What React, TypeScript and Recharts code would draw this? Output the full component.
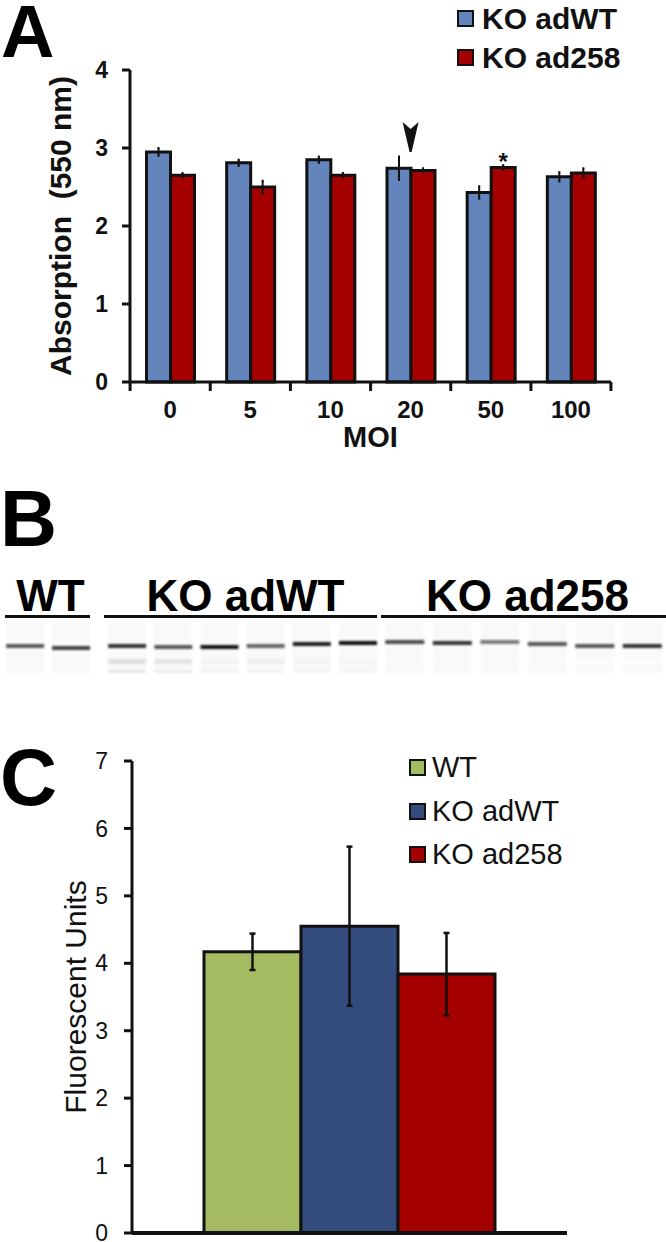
import React from 'react';
import { BarChart, Bar, XAxis, YAxis, ErrorBar, Cell, Legend, LabelList, ReferenceDot } from 'recharts';

const moi = ['0', '5', '10', '20', '50', '100'];
const adWtValues = [2.95, 2.81, 2.85, 2.74, 2.43, 2.63];
const adWtErrors = [0.05, 0.04, 0.04, 0.15, 0.08, 0.06];
const ad258Values = [2.65, 2.5, 2.65, 2.71, 2.75, 2.68];
const ad258Errors = [0.03, 0.08, 0.03, 0.03, 0.03, 0.06];
const marks = ['', '', '', '', '*', ''];

const fluorWt = 4.17;
const fluorWtErr = 0.27;
const fluorAdWt = 4.55;
const fluorAdWtErr = 1.18;
const fluorAd258 = 3.84;
const fluorAd258Err = 0.61;

// gel lanes: height of the main band above the gel bottom, and how dark each band is
const wtBand = [25, 23];
const wtDark = [0.7, 0.8];
const wtFaint = [0.04, 0.04];
const adWtBand = [25, 24, 24, 25, 27, 28];
const adWtDark = [0.85, 0.7, 1, 0.65, 0.95, 1];
const adWtFaint = [0.2, 0.17, 0.08, 0.11, 0.08, 0.07];
const ad258Band = [29, 28, 29, 27, 25, 25];
const ad258Dark = [0.75, 0.85, 0.55, 0.7, 0.7, 0.85];
const ad258Faint = [0.03, 0.03, 0.03, 0.03, 0.02, 0.02];

const BLUE = '#6484bc';
const RED = '#a50000';
const GREEN = '#a5bb62';
const NAVY = '#344c7d';
const INK = '#111';
const FONT = '"Liberation Sans", Arial, sans-serif';

const moiData = moi.map((name, i) => ({
  name,
  adWt: adWtValues[i],
  adWtErr: adWtErrors[i],
  ad258: ad258Values[i],
  ad258Err: ad258Errors[i],
  mark: marks[i],
}));

const fluorData = [{
  name: 'all',
  wt: fluorWt, wtErr: fluorWtErr,
  adWt: fluorAdWt, adWtErr: fluorAdWtErr,
  ad258: fluorAd258, ad258Err: fluorAd258Err,
}];

const Arrowhead = (props: any) => {
  const { cx, cy } = props;
  return <path d={`M${cx - 8} ${cy - 15} L${cx} ${cy - 8} L${cx + 8} ${cy - 15} L${cx + 1} ${cy + 15} L${cx - 1} ${cy + 15} Z`} fill={INK} />;
};

// the figure has its tick marks between the groups, not under them
const BAND = 80;
const MoiTick = (props: any) => {
  const { x, y, payload, index } = props;
  return (
    <g>
      <line x1={x - BAND / 2} x2={x - BAND / 2} y1={y} y2={y + 9} stroke={INK} strokeWidth={3} />
      {index === moi.length - 1 && <line x1={x + BAND / 2} x2={x + BAND / 2} y1={y} y2={y + 9} stroke={INK} strokeWidth={3} />}
      <text x={x} y={y + 36} textAnchor="middle" fill={INK} fontFamily={FONT} fontSize={24} fontWeight={700}>{payload.value}</text>
    </g>
  );
};

const makeLegend = (rowHeight: number, fontSize: number, fontWeight: number, gap: number) => (props: any) => (
  <div style={{ fontFamily: FONT, fontSize, fontWeight, color: INK }}>
    {(props.payload || []).map((p: any) => (
      <div key={p.value} style={{ display: 'flex', alignItems: 'center', height: rowHeight, whiteSpace: 'nowrap' }}>
        <span style={{ width: 13, height: 13, background: p.color, border: `2px solid ${INK}`, marginRight: gap, flex: 'none' }} />
        {p.value}
      </div>
    ))}
  </div>
);

const Blot = ({ band, dark, faint, width, left }: any) => {
  const gel = '#f9f9f9';
  const data = band.map((b: number, i: number) => ({
    lane: String(i),
    edge: 3, gapA: 6, lower: 5,
    gapB: b - 14, main: 4, top: 51 - b - 4,
  }));
  const seg = (key: string, fill: string, values?: number[]) => (
    <Bar dataKey={key} stackId="gel" fill={fill} isAnimationActive={false}>
      {values && values.map((v, i) => <Cell key={i} fill={fill} fillOpacity={v} />)}
    </Bar>
  );
  return (
    <div style={{ position: 'absolute', left, top: 622, filter: 'blur(0.9px)' }}>
      <BarChart width={width} height={51} data={data} margin={{ top: 0, right: 0, bottom: 0, left: 0 }} barCategoryGap="9%">
        <XAxis dataKey="lane" hide />
        <YAxis hide domain={[0, 51]} />
        {seg('edge', '#777', faint.map((v: number) => v * 0.7 + 0.03))}
        {seg('gapA', gel)}
        {seg('lower', '#666', faint)}
        {seg('gapB', gel)}
        {seg('main', INK, dark)}
        {seg('top', gel)}
      </BarChart>
    </div>
  );
};

const panelLetter = (text: string, top: number, size = 79, lineHeight = 79, left = 0) => (
  <div style={{ position: 'absolute', left, top, fontFamily: FONT, fontWeight: 700, fontSize: size, lineHeight: `${lineHeight}px`, color: '#000' }}>{text}</div>
);

const blotTitle = (text: string, left: number, width: number) => (
  <div style={{ position: 'absolute', left, width, top: 571, textAlign: 'center', fontFamily: FONT, fontWeight: 700, fontSize: 44, lineHeight: '50px', color: '#000' }}>{text}</div>
);

const blotRule = (left: number, width: number) => (
  <div style={{ position: 'absolute', left, width, top: 615, height: 3, background: INK }} />
);

export default function App() {
  return (
    <div style={{ position: 'absolute', left: 0, top: 0, width: 666, height: 1242, background: '#fff', overflow: 'hidden' }}>
      {panelLetter('A', 0, 74, 63, 1)}
      {panelLetter('B', 479)}
      {panelLetter('C', 738)}

      <div style={{ position: 'absolute', left: 0, top: 0 }}>
        <BarChart width={666} height={455} data={moiData} margin={{ top: 70, right: 55, bottom: 0, left: 60 }} barCategoryGap={16.5} barGap={0}>
          <XAxis
            dataKey="name"
            height={73}
            stroke={INK}
            strokeWidth={3}
            tickLine={false}
            tickMargin={0}
            tickSize={0}
            tick={<MoiTick />}
            interval={0}
            label={{ value: 'MOI', position: 'insideBottom', offset: 8, fill: INK, fontFamily: FONT, fontSize: 29, fontWeight: 700 }}
          />
          <YAxis
            width={70}
            domain={[0, 4]}
            ticks={[0, 1, 2, 3, 4]}
            interval={0}
            stroke={INK}
            strokeWidth={3}
            tickSize={8}
            tickMargin={14}
            tickLine={{ stroke: INK, strokeWidth: 3 }}
            tick={{ fill: INK, fontFamily: FONT, fontSize: 23, fontWeight: 700 }}
            label={{ value: 'Absorption\u00a0\u00a0(550 nm)', angle: -90, position: 'insideLeft', dx: -5, fill: INK, fontFamily: FONT, fontSize: 30, fontWeight: 700, style: { textAnchor: 'middle' } }}
          />
          <Legend
            layout="horizontal"
            verticalAlign="middle"
            align="center"
            itemSorter={null}
            content={makeLegend(39, 30, 700, 8)}
            wrapperStyle={{ left: 457, top: -1, width: 205 }}
          />
          <Bar dataKey="adWt" name="KO adWT" fill={BLUE} stroke={INK} strokeWidth={3} isAnimationActive={false}>
            <ErrorBar dataKey="adWtErr" width={1} stroke={INK} strokeWidth={2} />
          </Bar>
          <Bar dataKey="ad258" name="KO ad258" fill={RED} stroke={INK} strokeWidth={3} isAnimationActive={false}>
            <ErrorBar dataKey="ad258Err" width={1} stroke={INK} strokeWidth={2} />
            <LabelList dataKey="mark" position="top" offset={-2} fill={INK} fontFamily={FONT} fontSize={24} fontWeight={700} />
          </Bar>
          <ReferenceDot x="20" y={3.14} r={1} shape={Arrowhead} />
        </BarChart>
      </div>

      {blotTitle('WT', 8, 85)}
      {blotTitle('KO adWT', 104, 283)}
      {blotTitle('KO ad258', 385, 285)}
      {blotRule(5, 85)}
      {blotRule(104, 273)}
      {blotRule(381, 285)}
      <Blot band={wtBand} dark={wtDark} faint={wtFaint} left={2} width={92} />
      <Blot band={adWtBand} dark={adWtDark} faint={adWtFaint} left={104} width={277} />
      <Blot band={ad258Band} dark={ad258Dark} faint={ad258Faint} left={381} width={285} />

      <div style={{ position: 'absolute', left: 0, top: 740 }}>
        <BarChart width={666} height={502} data={fluorData} margin={{ top: 21, right: 99, bottom: 8, left: 62 }} barCategoryGap={0} barGap={0} barSize={97}>
          <XAxis dataKey="name" height={1} stroke={INK} strokeWidth={4} tick={false} tickLine={false} />
          <YAxis
            width={70}
            domain={[0, 7]}
            ticks={[0, 1, 2, 3, 4, 5, 6, 7]}
            interval={0}
            stroke={INK}
            strokeWidth={3}
            tickSize={8}
            tickMargin={16}
            tickLine={{ stroke: INK, strokeWidth: 3 }}
            tick={{ fill: INK, fontFamily: FONT, fontSize: 23 }}
            label={{ value: 'Fluorescent Units', angle: -90, position: 'insideLeft', dx: 8, fill: INK, fontFamily: FONT, fontSize: 30, style: { textAnchor: 'middle' } }}
          />
          <Legend
            layout="horizontal"
            verticalAlign="middle"
            align="center"
            itemSorter={null}
            content={makeLegend(43.5, 29, 400, 6)}
            wrapperStyle={{ left: 409, top: 6, width: 200 }}
          />
          <Bar dataKey="wt" name="WT" fill={GREEN} stroke={INK} strokeWidth={3} isAnimationActive={false}>
            <ErrorBar dataKey="wtErr" width={3} stroke={INK} strokeWidth={2.5} />
          </Bar>
          <Bar dataKey="adWt" name="KO adWT" fill={NAVY} stroke={INK} strokeWidth={3} isAnimationActive={false}>
            <ErrorBar dataKey="adWtErr" width={3} stroke={INK} strokeWidth={2.5} />
          </Bar>
          <Bar dataKey="ad258" name="KO ad258" fill={RED} stroke={INK} strokeWidth={3} isAnimationActive={false}>
            <ErrorBar dataKey="ad258Err" width={3} stroke={INK} strokeWidth={2.5} />
          </Bar>
        </BarChart>
      </div>
    </div>
  );
}
